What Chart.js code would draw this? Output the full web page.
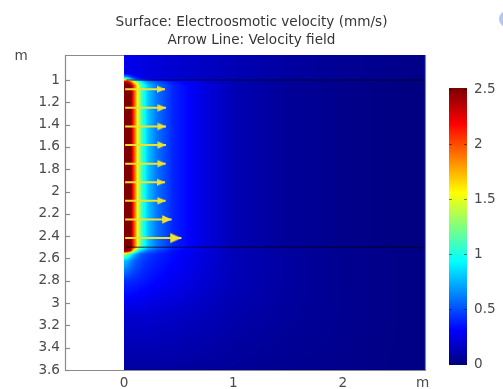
<!DOCTYPE html>
<html><head><meta charset="utf-8">
<script src="https://cdn.jsdelivr.net/npm/chart.js@4.4.1/dist/chart.umd.min.js"></script>
<style>html,body{margin:0;padding:0;background:#fff;overflow:hidden}canvas{display:block}</style>
</head><body>
<canvas id="c" width="503" height="389"></canvas>
<script>
// ---- text ----
const titleLines = ['Surface: Electroosmotic velocity (mm/s)', 'Arrow Line: Velocity field'];
const unitLabel = 'm';
// ---- axes ----
const xTicks = [0, 1, 2];
const yTicks = [1, 1.2, 1.4, 1.6, 1.8, 2, 2.2, 2.4, 2.6, 2.8, 3, 3.2, 3.4, 3.6];
const xRange = [-0.54, 2.752];
const yRange = [0.776, 3.6];
const colorbarTicks = [0, 0.5, 1, 1.5, 2, 2.5];
const colorbarRange = [0, 2.5];
// ---- arrows (velocity field) ----
const arrowY = [1.083, 1.25, 1.417, 1.583, 1.75, 1.917, 2.083, 2.25, 2.417];
const arrowStart = 0.01;
const arrowTip = [0.375, 0.383, 0.383, 0.383, 0.38, 0.375, 0.38, 0.435, 0.525];
// ---- surface: electroosmotic velocity (mm/s) sampled on a grid ----
const fieldX = [0, 0.03, 0.06, 0.08, 0.1, 0.12, 0.14, 0.17, 0.22, 0.3, 0.45, 0.7, 1.0, 1.5, 2.0, 2.76];
const fieldY = [0.776, 0.94, 0.97, 0.99, 1.015, 1.05, 2.45, 2.5, 2.53, 2.56, 2.62, 2.8, 3.1, 3.6];
const rowTop      = [0.26,0.26,0.26,0.25,0.25,0.25,0.25,0.24,0.23,0.22,0.2,0.17,0.13,0.08,0.05,0.02];
const rowGlowTopA = [0.7,0.6,0.45,0.38,0.33,0.3,0.28,0.26,0.24,0.22,0.2,0.17,0.13,0.08,0.05,0.02];
const rowGlowTopB = [1.3,1.1,0.8,0.6,0.5,0.42,0.38,0.33,0.28,0.25,0.22,0.18,0.13,0.08,0.05,0.02];
const rowEntry    = [2.3,2.3,2.0,1.7,1.45,1.25,1.05,0.85,0.65,0.5,0.35,0.23,0.12,0.06,0.03,0.0];
const rowChannel  = [2.6,2.6,2.55,2.2,1.9,1.6,1.35,1.05,0.8,0.6,0.4,0.25,0.13,0.06,0.03,0.0];
const rowExit     = [2.6,2.55,2.3,1.7,1.35,1.1,0.9,0.75,0.6,0.48,0.35,0.24,0.13,0.07,0.04,0.01];
const rowGlowBotA = [1.4,1.25,1.0,0.85,0.75,0.65,0.58,0.52,0.46,0.4,0.33,0.24,0.14,0.08,0.04,0.01];
const rowGlowBotB = [0.8,0.75,0.65,0.6,0.55,0.52,0.5,0.46,0.42,0.38,0.32,0.23,0.14,0.08,0.04,0.01];
const rowLow1     = [0.42,0.42,0.41,0.4,0.4,0.39,0.38,0.37,0.35,0.32,0.28,0.21,0.14,0.08,0.04,0.01];
const rowLow2     = [0.2,0.2,0.2,0.2,0.2,0.2,0.2,0.2,0.2,0.19,0.18,0.15,0.11,0.07,0.04,0.01];
const rowBottom   = [0.08,0.08,0.08,0.08,0.08,0.08,0.08,0.08,0.08,0.08,0.08,0.07,0.06,0.04,0.03,0.01];
const fieldV = [rowTop, rowTop, rowGlowTopA, rowGlowTopB, rowEntry, rowChannel, rowChannel, rowChannel,
                rowExit, rowGlowBotA, rowGlowBotB, rowLow1, rowLow2, rowBottom];
const channelWalls = [1.0, 2.5];

const FONT = 'DejaVu Sans';
const FS = 13.6;
const TICK_COLOR = '#4a4a4a';
const AXIS_COLOR = '#8a8a8a';
const ARROW_COLOR = 'rgb(240,226,42)';

function jet(t) {
  t = Math.max(0, Math.min(1, t));
  const c = v => Math.max(0, Math.min(1, v));
  return [c(1.5 - Math.abs(4*t - 3)), c(1.5 - Math.abs(4*t - 2)), c(1.5 - Math.abs(4*t - 1))].map(v => Math.round(v*255));
}
function locate(arr, v) {
  const n = arr.length;
  if (v <= arr[0]) return [0, 0];
  if (v >= arr[n-1]) return [n-2, 1];
  let i = 0; while (v > arr[i+1]) i++;
  return [i, (v - arr[i]) / (arr[i+1] - arr[i])];
}
function fieldAt(xv, yv) {
  const [i, tx] = locate(fieldX, xv), [j, ty] = locate(fieldY, yv);
  const a = fieldV[j][i]*(1-tx) + fieldV[j][i+1]*tx;
  const b = fieldV[j+1][i]*(1-tx) + fieldV[j+1][i+1]*tx;
  return a*(1-ty) + b*ty;
}

function makeHead(len, halfW) {
  const cv = document.createElement('canvas');
  cv.width = Math.ceil(len*2); cv.height = Math.ceil(halfW*2)+2;
  const g = cv.getContext('2d');
  const cy = cv.height/2, tip = cv.width/2;
  g.fillStyle = ARROW_COLOR;
  g.beginPath(); g.moveTo(tip, cy); g.lineTo(tip-len, cy-halfW); g.lineTo(tip-len, cy+halfW); g.closePath(); g.fill();
  return cv;
}

const fieldPlugin = {
  id: 'field',
  beforeDatasetsDraw(chart) {
    const {ctx, scales: {x, y}} = chart;
    const px0 = Math.round(x.getPixelForValue(0));
    const px1 = Math.round(chart.chartArea.right);
    const py0 = Math.round(chart.chartArea.top);
    const py1 = Math.round(chart.chartArea.bottom);
    const w = px1 - px0, h = py1 - py0;
    const img = ctx.createImageData(w, h);
    const cols = [];
    for (let i = 0; i < w; i++) cols.push(x.getValueForPixel(px0 + i + 0.5));
    for (let j = 0; j < h; j++) {
      const yv = y.getValueForPixel(py0 + j + 0.5);
      for (let i = 0; i < w; i++) {
        const v = fieldAt(cols[i], yv);
        const [r, g, b] = jet((v - colorbarRange[0]) / (colorbarRange[1] - colorbarRange[0]));
        const k = (j*w + i)*4;
        img.data[k] = r; img.data[k+1] = g; img.data[k+2] = b; img.data[k+3] = 255;
      }
    }
    ctx.putImageData(img, px0, py0);
    // channel wall boundaries
    ctx.save();
    ctx.strokeStyle = 'rgba(0,0,30,0.55)';
    ctx.lineWidth = 1.5;
    channelWalls.forEach(wv => {
      const py = y.getPixelForValue(wv);
      ctx.beginPath(); ctx.moveTo(x.getPixelForValue(0.02), py); ctx.lineTo(px1, py); ctx.stroke();
    });
    ctx.restore();
  },
  afterDraw(chart) {
    const {ctx, scales: {x, y}, chartArea: ca} = chart;
    ctx.save();
    // frame
    ctx.strokeStyle = AXIS_COLOR; ctx.lineWidth = 1.2;
    const x0 = x.getPixelForValue(0);
    ctx.beginPath();
    ctx.moveTo(x0, ca.top + 0.5); ctx.lineTo(ca.left + 0.5, ca.top + 0.5);
    ctx.lineTo(ca.left + 0.5, ca.bottom + 0.5); ctx.lineTo(ca.right + 0.5, ca.bottom + 0.5);
    ctx.lineTo(ca.right + 0.5, ca.top);
    ctx.stroke();
    // y tick marks (inward)
    yTicks.forEach(v => {
      const py = Math.round(y.getPixelForValue(v)) + 0.5;
      ctx.beginPath(); ctx.moveTo(ca.left, py); ctx.lineTo(ca.left + 5, py); ctx.stroke();
    });
    // unit labels
    ctx.fillStyle = TICK_COLOR;
    ctx.font = `${FS}px "${FONT}"`;
    ctx.textAlign = 'center'; ctx.textBaseline = 'middle';
    ctx.fillText(unitLabel, 21, ca.top + 1);
    ctx.fillText(unitLabel, x.getPixelForValue(2.73), 383);
    // colorbar
    const cbL = 449, cbW = 18, cbT = 88, cbB = 365;
    const vToY = v => cbB - 1 - (v - colorbarRange[0]) / (colorbarRange[1] - colorbarRange[0]) * (cbB - cbT - 2);
    for (let py = cbT; py < cbB; py++) {
      const v = colorbarRange[0] + (cbB - 1 - py) / (cbB - cbT - 2) * (colorbarRange[1] - colorbarRange[0]);
      const [r, g, b] = jet(v / colorbarRange[1]);
      ctx.fillStyle = `rgb(${r},${g},${b})`;
      ctx.fillRect(cbL, py, cbW, 1);
    }
    ctx.strokeStyle = 'rgba(0,0,0,0.45)'; ctx.lineWidth = 1;
    colorbarTicks.forEach(v => {
      const py = Math.round(vToY(v)) + 0.5;
      ctx.beginPath(); ctx.moveTo(cbL, py); ctx.lineTo(cbL + 3, py);
      ctx.moveTo(cbL + cbW - 3, py); ctx.lineTo(cbL + cbW, py); ctx.stroke();
    });
    ctx.fillStyle = TICK_COLOR; ctx.textAlign = 'left'; ctx.textBaseline = 'middle';
    colorbarTicks.forEach(v => ctx.fillText(String(v), 474, vToY(v)));
    // window artifact at top-right
    ctx.fillStyle = 'rgba(120,155,215,0.55)';
    ctx.beginPath(); ctx.arc(507, 19, 8, 0, Math.PI*2); ctx.fill();
    ctx.restore();
  }
};

const heads = arrowTip.map((t, i) => {
  const L = (t - arrowStart) * 109.3;
  return makeHead(Math.max(8, L*0.2), Math.max(3.6, L*0.09));
});

const datasets = arrowY.map((yv, i) => ({
  data: [{x: arrowStart, y: yv}, {x: arrowTip[i], y: yv}],
  borderColor: ARROW_COLOR,
  borderWidth: 2,
  tension: 0,
  pointRadius: c => c.dataIndex === 1 ? 5 : 0,
  pointStyle: c => c.dataIndex === 1 ? heads[i] : 'circle',
  pointHoverRadius: 0,
  clip: false
}));

new Chart(document.getElementById('c'), {
  type: 'line',
  data: { datasets },
  plugins: [fieldPlugin],
  options: {
    responsive: false, animation: false, devicePixelRatio: 1,
    layout: { padding: 0 },
    plugins: {
      legend: { display: false }, tooltip: { enabled: false },
      title: {
        display: true, text: titleLines, color: '#353535',
        font: { family: FONT, size: FS, weight: 'normal', lineHeight: 18/FS },
        padding: { top: 13, bottom: 6 }
      }
    },
    scales: {
      x: {
        type: 'linear', min: xRange[0], max: xRange[1],
        afterBuildTicks: s => { s.ticks = xTicks.map(v => ({value: v})); },
        afterFit: s => { s.height = 19; },
        grid: { display: false, drawTicks: false }, border: { display: false },
        ticks: { color: TICK_COLOR, font: { family: FONT, size: FS }, padding: 5, maxRotation: 0, autoSkip: false,
                 callback: v => String(v) }
      },
      y: {
        type: 'linear', reverse: true, min: yRange[0], max: yRange[1],
        afterBuildTicks: s => { s.ticks = yTicks.map(v => ({value: v})); },
        afterFit: s => { s.width = 65; },
        grid: { display: false, drawTicks: false }, border: { display: false },
        ticks: { color: TICK_COLOR, font: { family: FONT, size: FS }, padding: 5, autoSkip: false,
                 callback: v => String(v) }
      },
      cb: {
        type: 'linear', position: 'right', min: colorbarRange[0], max: colorbarRange[1],
        afterFit: s => { s.width = 78; },
        grid: { display: false, drawTicks: false }, border: { display: false },
        ticks: { display: false }
      }
    }
  }
});
</script>
</body></html>
